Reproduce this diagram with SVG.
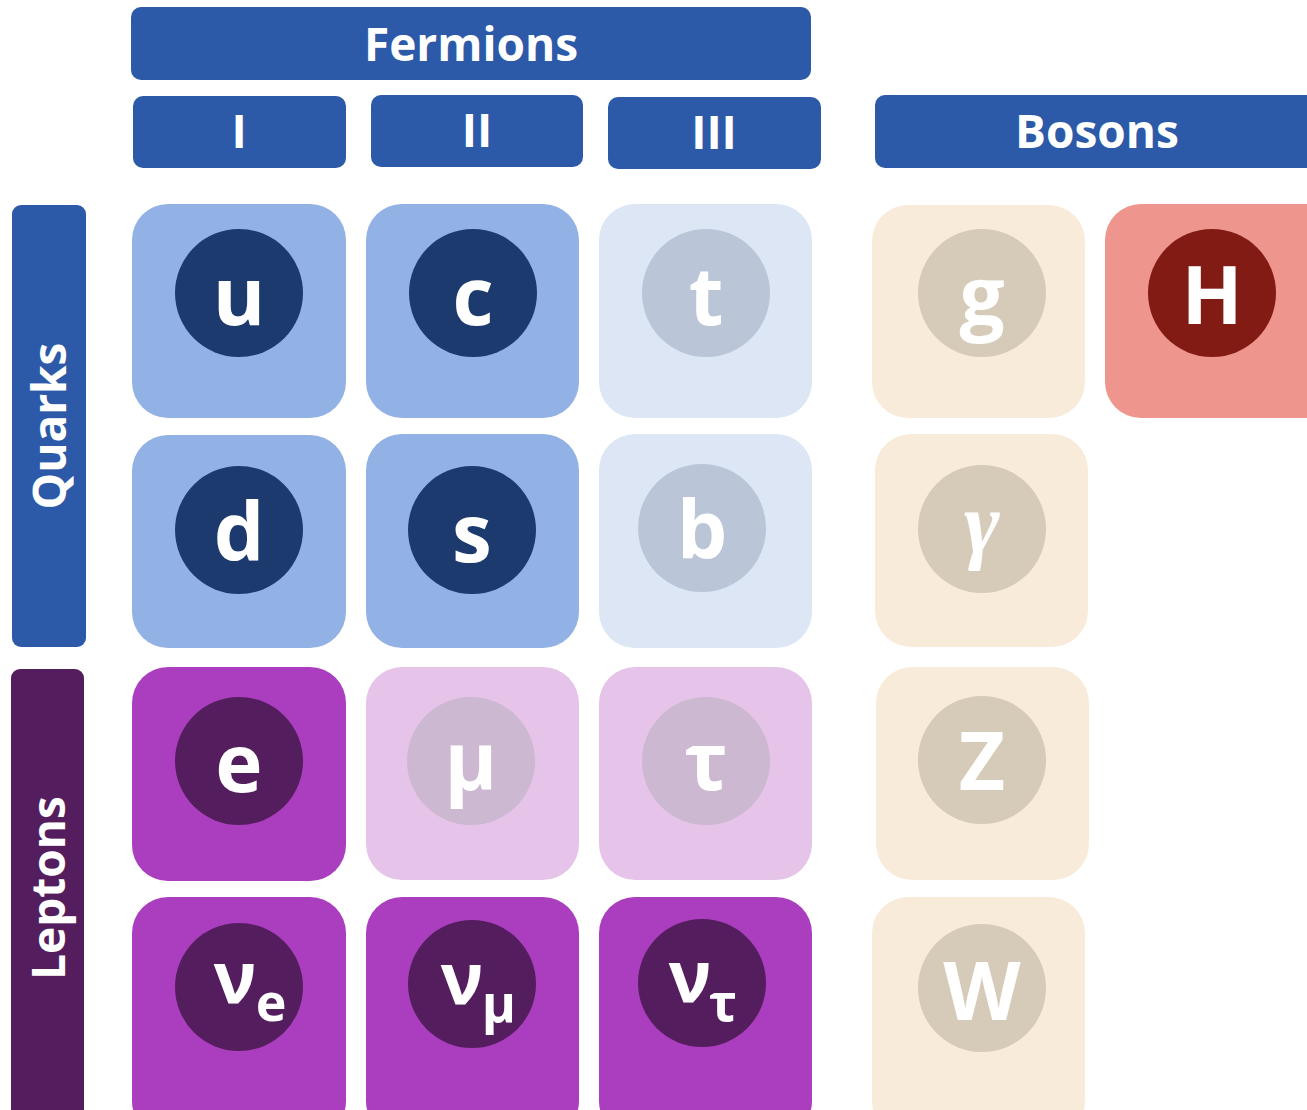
<svg xmlns="http://www.w3.org/2000/svg" width="1307" height="1110" viewBox="0 0 1307 1110">
<style>
.hdr{fill:#2C5AA8}
.ht{font-family:"Open Sans","Noto Sans",sans-serif;font-weight:bold;font-size:46px;fill:#fff;text-anchor:middle}
.lt{font-family:"Open Sans","Noto Sans",sans-serif;font-weight:bold;font-size:80px;fill:#fff;text-anchor:middle}
.nu{font-family:"Open Sans","Noto Sans",sans-serif;font-weight:bold;font-size:72px;fill:#fff;text-anchor:middle}
.sub{font-family:"Open Sans","Noto Sans",sans-serif;font-weight:bold;font-size:52px;fill:#fff;text-anchor:middle}
.q1{fill:#92B1E4}.q1c{fill:#1C3A6E}
.q3{fill:#DDE6F5}.q3c{fill:#BAC5D7}
.l1{fill:#AA3EBE}.l1c{fill:#541E5E}
.l2{fill:#E6C4EA}.l2c{fill:#CCB8D1}
.bo{fill:#F9EBD9}.boc{fill:#D6CAB8}
.hi{fill:#EE968E}.hic{fill:#821B14}
</style>
<g id="headers">
<g id="fermions"><rect class="hdr" x="131" y="7" width="680" height="73" rx="10"/><text class="ht" x="471" y="61">Fermions</text></g>
<g id="gen1"><rect class="hdr" x="133" y="96" width="213" height="72" rx="10"/><text class="ht" x="239" y="148">I</text></g>
<g id="gen2"><rect class="hdr" x="371" y="95" width="212" height="72" rx="10"/><text class="ht" x="477" y="147">II</text></g>
<g id="gen3"><rect class="hdr" x="608" y="97" width="213" height="72" rx="10"/><text class="ht" x="714" y="149">III</text></g>
<g id="bosons"><rect class="hdr" x="875" y="95" width="450" height="73" rx="10"/><text class="ht" x="1097" y="148">Bosons</text></g>
<g id="quarks"><rect class="hdr" x="12" y="205" width="74" height="442" rx="9"/><text class="ht" transform="translate(66,426) rotate(-90)">Quarks</text></g>
<g id="leptons"><rect x="11" y="669" width="73" height="460" rx="9" fill="#541E5E"/><text class="ht" transform="translate(65,888) rotate(-90)">Leptons</text></g>
</g>
<g id="particles">
<g id="u"><rect class="q1" x="132" y="204" width="214" height="214" rx="36"/><circle class="q1c" cx="239" cy="293" r="64"/><text class="lt" x="239" y="325">u</text></g>
<g id="c"><rect class="q1" x="366" y="204" width="213" height="214" rx="36"/><circle class="q1c" cx="473" cy="293" r="64"/><text class="lt" x="473" y="325">c</text></g>
<g id="t"><rect class="q3" x="599" y="204" width="213" height="214" rx="36"/><circle class="q3c" cx="706" cy="293" r="64"/><text class="lt" x="706" y="325">t</text></g>
<g id="g"><rect class="bo" x="872" y="205" width="213" height="213" rx="36"/><circle class="boc" cx="982" cy="293" r="64"/><text class="lt" x="982" y="325">g</text></g>
<g id="H"><rect class="hi" x="1105" y="204" width="240" height="214" rx="36"/><circle class="hic" cx="1212" cy="293" r="64"/><text class="lt" x="1212" y="324">H</text></g>
<g id="d"><rect class="q1" x="132" y="435" width="214" height="213" rx="36"/><circle class="q1c" cx="239" cy="530" r="64"/><text class="lt" x="239" y="560">d</text></g>
<g id="s"><rect class="q1" x="366" y="434" width="213" height="214" rx="36"/><circle class="q1c" cx="472" cy="530" r="64"/><text class="lt" x="472" y="562">s</text></g>
<g id="b"><rect class="q3" x="599" y="434" width="213" height="214" rx="36"/><circle class="q3c" cx="702" cy="528" r="64"/><text class="lt" x="702" y="558">b</text></g>
<g id="gamma"><rect class="bo" x="875" y="434" width="213" height="213" rx="36"/><circle class="boc" cx="982" cy="529" r="64"/><text x="982" y="552" style="font-family:'Liberation Serif','DejaVu Serif',serif;font-style:italic;font-weight:bold;font-size:86px;fill:#fff;text-anchor:middle">γ</text></g>
<g id="e"><rect class="l1" x="132" y="667" width="214" height="214" rx="36"/><circle class="l1c" cx="239" cy="761" r="64"/><text class="lt" x="239" y="792">e</text></g>
<g id="mu"><rect class="l2" x="366" y="667" width="213" height="213" rx="36"/><circle class="l2c" cx="471" cy="761" r="64"/><text class="lt" x="471" y="790">μ</text></g>
<g id="tau"><rect class="l2" x="599" y="667" width="213" height="213" rx="36"/><circle class="l2c" cx="706" cy="761" r="64"/><text class="lt" x="706" y="790">τ</text></g>
<g id="Z"><rect class="bo" x="876" y="667" width="213" height="213" rx="36"/><circle class="boc" cx="982" cy="760" r="64"/><text class="lt" x="982" y="790">Z</text></g>
<g id="nue"><rect class="l1" x="132" y="897" width="214" height="240" rx="36"/><circle class="l1c" cx="239" cy="987" r="64"/><text class="nu" x="235" y="1003">ν</text><text class="sub" x="271" y="1021">e</text></g>
<g id="numu"><rect class="l1" x="366" y="897" width="213" height="240" rx="36"/><circle class="l1c" cx="472" cy="984" r="64"/><text class="nu" x="462" y="1004">ν</text><text class="sub" x="499" y="1022">μ</text></g>
<g id="nutau"><rect class="l1" x="599" y="897" width="213" height="240" rx="36"/><circle class="l1c" cx="702" cy="983" r="64"/><text class="nu" x="690" y="1002">ν</text><text class="sub" x="723" y="1021">τ</text></g>
<g id="W"><rect class="bo" x="872" y="897" width="213" height="240" rx="36"/><circle class="boc" cx="982" cy="988" r="64"/><text class="lt" x="982" y="1020">W</text></g>
</g>
<g id="connectors"/>
</svg>
